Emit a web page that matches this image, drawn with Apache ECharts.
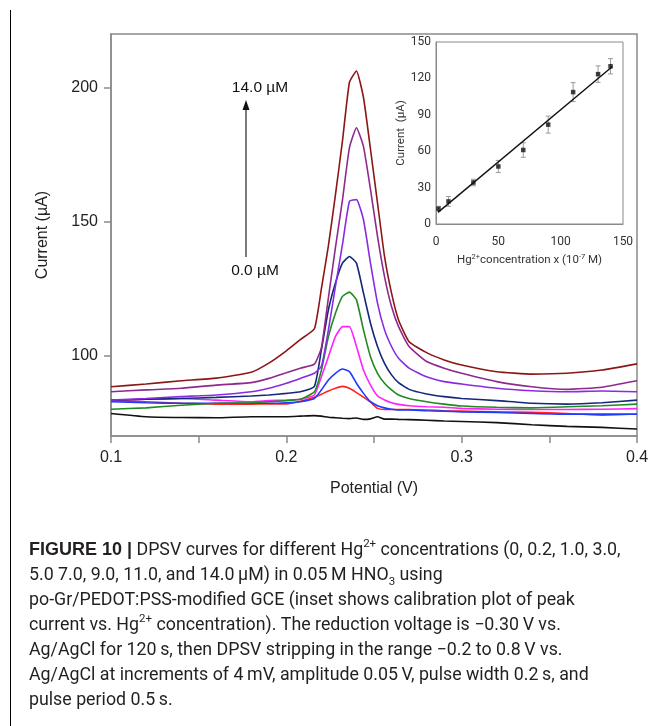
<!DOCTYPE html>
<html><head><meta charset="utf-8">
<script src="https://cdn.jsdelivr.net/npm/echarts@6/dist/echarts.min.js"></script>
<style>html,body{margin:0;padding:0;background:#fff}#c{width:655px;height:726px}</style>
</head><body><div id="c"></div>
<script>
// ---------- Main DPSV curves ----------
const potential = [0.100,0.120,0.140,0.160,0.180,0.190,0.200,0.208,0.216,0.220,0.224,0.228,0.232,0.236,0.240,0.244,0.248,0.252,0.256,0.260,0.264,0.270,0.280,0.290,0.300,0.320,0.340,0.360,0.380,0.400];
const cur_0_0  = [78.4,77.2,76.9,76.8,77.2,77.2,77.2,77.4,77.6,77.4,77.0,76.8,76.6,76.5,76.7,76.2,76.4,77.2,76.3,76.3,76.2,76.1,75.9,75.6,75.4,75.0,74.2,73.6,73.2,72.6];
const cur_0_2  = [83.2,82.8,82.2,81.9,81.9,82.0,82.0,83.0,84.5,85.6,86.8,87.8,88.5,87.8,86.2,84.5,82.6,80.3,79.9,79.9,79.9,79.9,79.7,79.4,79.3,79.0,78.8,78.4,77.8,78.2];
const cur_1_0  = [82.8,82.4,82.2,82.2,82.2,82.2,82.4,82.8,84.0,87.2,90.9,93.4,95.0,94.0,89.7,85.9,82.8,81.3,80.5,80.0,79.7,79.7,79.4,79.3,79.0,78.8,78.4,78.1,78.2,78.1];
const cur_3_0  = [83.4,83.7,84.0,83.4,82.8,83.2,83.4,83.7,85.3,92.1,99.6,107.1,110.8,110.8,103.4,94.6,89.0,85.0,83.4,82.4,81.8,81.3,80.9,80.7,80.3,80.0,79.9,79.9,80.0,80.2];
const cur_5_0  = [80.0,80.5,81.5,82.2,82.4,82.8,83.2,83.7,86.5,94.6,107.1,115.8,122.1,123.7,120.8,109.6,99.6,93.4,89.7,87.2,85.3,84.0,82.8,81.9,81.2,80.7,80.5,80.9,81.3,81.9];
const cur_7_0  = [83.4,83.7,84.0,84.4,84.9,85.3,85.9,86.5,88.5,102.1,117.1,127.1,134.5,137.0,134.5,123.3,112.1,103.4,97.1,92.8,89.9,87.4,85.7,84.7,84.0,83.2,82.2,81.9,82.4,83.4];
const cur_9_0  = [83.4,84.0,84.7,85.3,86.5,87.8,89.7,91.5,93.4,96.0,109.6,125.8,141.4,157.6,158.2,150.7,134.5,119.6,109.6,103.4,99.0,95.3,92.1,90.3,89.4,87.8,86.9,86.5,86.8,86.5];
const cur_11_0 = [86.5,87.2,87.8,89.0,89.9,91.5,93.6,95.3,96.8,103.0,121.6,140.3,158.0,177.6,185.0,178.0,162.0,144.5,129.5,118.3,110.8,103.4,97.8,95.3,93.4,90.3,88.4,87.4,88.2,90.6];
const cur_14_0 = [88.4,89.4,90.6,91.6,93.8,97.2,101.8,106.0,110.0,125.0,141.0,160.0,180.0,202.0,206.2,196.3,177.0,157.0,137.0,123.3,113.3,105.2,101.1,98.4,96.5,94.0,93.1,93.4,94.6,96.9];
const curveNames = ['0.0 µM','0.2 µM','1.0 µM','3.0 µM','5.0 µM','7.0 µM','9.0 µM','11.0 µM','14.0 µM'];
const curveValues = [cur_0_0,cur_0_2,cur_1_0,cur_3_0,cur_5_0,cur_7_0,cur_9_0,cur_11_0,cur_14_0];
const curveColors = ['#111111','#ff2222','#1f3bff','#ff22ff','#1f8a1f','#14287a','#8a2be2','#8e2a8e','#8c1616'];
const yTickValues = [100,150,200];

// ---------- Inset calibration ----------
const concX   = [2,10,30,50,70,90,110,130,140];
const peakI   = [12.6,18.6,34.2,47.4,61.0,81.9,108.7,123.5,130.0];
const errI    = [2.0,4.0,2.7,5.0,6.0,7.0,7.8,6.8,6.3];
const fitX    = [1.6,141.5];
const fitY    = [9.6,129.8];

const AX = '#8a8a8a';
const FONT = 'Liberation Sans';
const CF = 'Roboto';

const series = curveValues.map((vals, k) => ({
  name: curveNames[k], type: 'line', xAxisIndex: 0, yAxisIndex: 0,
  data: potential.map((p, i) => [p, vals[i]]),
  showSymbol: false, symbol: 'none', silent: true, smooth: 0.15,
  lineStyle: { width: 1.6, color: curveColors[k] }, z: 2 + k
}));

series.push({
  type: 'custom', xAxisIndex: 1, yAxisIndex: 1, silent: true, z: 20,
  data: concX.map((x, i) => [x, peakI[i] - errI[i], peakI[i] + errI[i]]),
  encode: { x: 0, y: [1, 2] },
  renderItem: (params, api) => {
    const lo = api.coord([api.value(0), api.value(1)]);
    const hi = api.coord([api.value(0), api.value(2)]);
    const w = 2.5, st = { stroke: '#9a9a9a', lineWidth: 1 };
    return { type: 'group', children: [
      { type: 'line', shape: { x1: lo[0], y1: lo[1], x2: hi[0], y2: hi[1] }, style: st },
      { type: 'line', shape: { x1: lo[0]-w, y1: lo[1], x2: lo[0]+w, y2: lo[1] }, style: st },
      { type: 'line', shape: { x1: hi[0]-w, y1: hi[1], x2: hi[0]+w, y2: hi[1] }, style: st }
    ]};
  }
});
series.push({
  type: 'line', xAxisIndex: 1, yAxisIndex: 1, silent: true, z: 21,
  data: fitX.map((x, i) => [x, fitY[i]]), showSymbol: false, symbol: 'none',
  lineStyle: { color: '#111', width: 1.4 }
});
series.push({
  type: 'scatter', xAxisIndex: 1, yAxisIndex: 1, silent: true, z: 22,
  data: concX.map((x, i) => [x, peakI[i]]), symbol: 'rect', symbolSize: 4.5,
  itemStyle: { color: '#111' }
});

const CS = 17.8, LH = 25;
const capRich = {
  r:   { fontFamily: CF, fontSize: CS, lineHeight: LH, color: '#231f20' },
  b:   { fontFamily: FONT, fontSize: 18, lineHeight: LH, color: '#231f20', fontWeight: 'bold' },
  sup: { fontFamily: CF, fontSize: 11.5, color: '#231f20', verticalAlign: 'top' },
  sub: { fontFamily: CF, fontSize: 11.5, color: '#231f20', verticalAlign: 'bottom' }
};
const capLines = [
  '{b|FIGURE 10 |}{r| DPSV curves for different Hg}{sup|2+}{r| concentrations (0, 0.2, 1.0, 3.0,}',
  '{r|5.0 7.0, 9.0, 11.0, and 14.0\u2009µM) in 0.05\u2009M HNO}{sub|3}{r| using}',
  '{r|po-Gr/PEDOT:PSS-modified GCE (inset shows calibration plot of peak}',
  '{r|current vs. Hg}{sup|2+}{r| concentration). The reduction voltage is \u22120.30\u2009V vs.}',
  '{r|Ag/AgCl for 120\u2009s, then DPSV stripping in the range \u22120.2 to 0.8\u2009V vs.}',
  '{r|Ag/AgCl at increments of 4\u2009mV, amplitude 0.05\u2009V, pulse width 0.2\u2009s, and}',
  '{r|pulse period 0.5\u2009s.}'
];
const graphics = [{
  type: 'text', left: 29, top: 538, silent: true,
  style: { text: capLines.join('\n'), rich: capRich, fill: '#231f20' }
}];
graphics.push(
  { type: 'line', silent: true, shape: { x1: 10.5, y1: 10, x2: 10.5, y2: 726 }, style: { stroke: '#000', lineWidth: 1 } },
  { type: 'line', silent: true, shape: { x1: 246, y1: 257, x2: 246, y2: 108 }, style: { stroke: '#222', lineWidth: 1.2 } },
  { type: 'polygon', silent: true, shape: { points: [[246, 100], [242.5, 110], [249.5, 110]] }, style: { fill: '#111' } },
  { type: 'text', silent: true, x: 260, y: 88, style: { text: '14.0 µM', font: '15.5px ' + FONT, fill: '#111', textAlign: 'center', textVerticalAlign: 'middle', align: 'center', verticalAlign: 'middle' } },
  { type: 'text', silent: true, x: 255, y: 271, style: { text: '0.0 µM', font: '15.5px ' + FONT, fill: '#111', textAlign: 'center', textVerticalAlign: 'middle', align: 'center', verticalAlign: 'middle' } },
  { type: 'text', silent: true, x: 462, y: 57, style: { text: 'y = 8.72x + 7.0', font: '11.5px ' + CF, fill: '#222', textVerticalAlign: 'middle', verticalAlign: 'middle' } },
  { type: 'text', silent: true, x: 462, y: 74, style: { text: '{n|R}{s|2}{n|= 0.9911}', rich: { n: { fontFamily: CF, fontSize: 11.5, lineHeight: 15, color: '#222' }, s: { fontFamily: CF, fontSize: 7.5, color: '#222', verticalAlign: 'top' } }, textVerticalAlign: 'middle', verticalAlign: 'middle' } }
);

const option = {
  animation: false,
  backgroundColor: '#fff',
  grid: [
    { left: 111, top: 34, width: 526, height: 402, show: true, borderColor: AX, borderWidth: 1.5, backgroundColor: 'transparent' },
    { left: 436, top: 42, width: 187, height: 182, show: true, borderColor: AX, borderWidth: 1, backgroundColor: '#fff', z: 10 }
  ],
  xAxis: [
    { type: 'value', gridIndex: 0, min: 0.1, max: 0.4, interval: 0.05,
      name: 'Potential (V)', nameLocation: 'middle', nameGap: 45,
      nameTextStyle: { fontFamily: FONT, fontSize: 16, color: '#222' },
      axisLine: { lineStyle: { color: AX, width: 1.5 } },
      axisTick: { inside: false, length: 7, lineStyle: { color: AX, width: 1.5 } },
      axisLabel: { margin: 14, fontFamily: FONT, fontSize: 16, color: '#222',
        formatter: v => (Math.round(v * 100) % 10 === 0 ? v.toFixed(1) : '') },
      splitLine: { show: false } },
    { type: 'value', gridIndex: 1, min: 0, max: 150, interval: 50, z: 10,
      name: '{n|Hg}{s|2+}{n|concentration x (10}{s|-7}{n| M)}', nameLocation: 'middle', nameGap: 29,
      nameTextStyle: { rich: { n: { fontFamily: CF, fontSize: 11.5, lineHeight: 15, color: '#333' }, s: { fontFamily: CF, fontSize: 7.5, color: '#333', verticalAlign: 'top' } } },
      axisLine: { lineStyle: { color: AX, width: 1 } },
      axisTick: { show: false },
      axisLabel: { margin: 12, fontFamily: CF, fontSize: 12, color: '#333' },
      splitLine: { show: false } }
  ],
  yAxis: [
    { type: 'value', gridIndex: 0, min: 70, max: 220,
      name: 'Current (µA)', nameLocation: 'middle', nameGap: 60,
      nameTextStyle: { fontFamily: FONT, fontSize: 16, color: '#222' },
      axisLine: { lineStyle: { color: AX, width: 1.5 } },
      axisTick: { inside: false, length: 7, customValues: yTickValues, lineStyle: { color: AX, width: 1.5 } },
      axisLabel: { margin: 13, fontFamily: FONT, fontSize: 16, color: '#222', customValues: yTickValues },
      splitLine: { show: false } },
    { type: 'value', gridIndex: 1, min: 0, max: 150, interval: 30, z: 10,
      name: 'Current  (µA)', nameLocation: 'middle', nameGap: 29,
      nameTextStyle: { fontFamily: CF, fontSize: 11.5, color: '#333' },
      axisLine: { lineStyle: { color: AX, width: 1 } },
      axisTick: { show: false },
      axisLabel: { margin: 5, fontFamily: CF, fontSize: 12, color: '#333' },
      splitLine: { show: false } }
  ],
  graphic: graphics,
  series: series
};
echarts.init(document.getElementById('c'), null, { renderer: 'canvas' }).setOption(option);
</script></body></html>
